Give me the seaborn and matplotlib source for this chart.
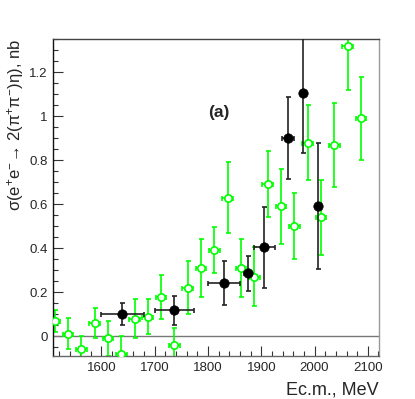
import numpy as np
import pandas as pd
import seaborn as sns
import matplotlib
matplotlib.use("Agg")
import matplotlib.pyplot as plt
from matplotlib.ticker import MultipleLocator, FuncFormatter

# --- data ---
green_x = [1512, 1537, 1562, 1587, 1612, 1637, 1662, 1687, 1712, 1737, 1762, 1787,
           1812, 1837, 1862, 1887, 1912, 1937, 1962, 1987, 2012, 2037, 2062, 2087]
green_y = [0.07, 0.012, -0.059, 0.06, -0.01, -0.08, 0.08, 0.088, 0.179, -0.041, 0.22, 0.31,
           0.39, 0.63, 0.31, 0.27, 0.69, 0.59, 0.50, 0.879, 0.54, 0.868, 1.32, 0.99]
green_yerr = [0.05, 0.07, 0.06, 0.07, 0.08, 0.08, 0.09, 0.08, 0.10, 0.08, 0.12, 0.13,
              0.105, 0.16, 0.13, 0.135, 0.15, 0.17, 0.15, 0.17, 0.17, 0.19, 0.20, 0.19]
green_xerr = [10] * len(green_x)

black_x = [1639, 1737, 1830, 1875, 1906, 1950, 1978, 2006]
black_y = [0.103, 0.118, 0.24, 0.285, 0.403, 0.90, 1.103, 0.592]
black_xerr = [40, 37, 30, 7, 19, 11, 3, 3]
black_yerr = [0.05, 0.065, 0.10, 0.08, 0.185, 0.186, 0.27, 0.287]

xticks = [1600, 1700, 1800, 1900, 2000, 2100]
yticks = [0, 0.2, 0.4, 0.6, 0.8, 1.0, 1.2]

green_df = pd.DataFrame({"E": green_x, "sigma": green_y})
black_df = pd.DataFrame({"E": black_x, "sigma": black_y})

sns.set_theme(style="white")
plt.rcParams["font.family"] = ["Liberation Sans", "DejaVu Sans"]
plt.rcParams["mathtext.fontset"] = "custom"
plt.rcParams["mathtext.rm"] = "Liberation Sans"
plt.rcParams["mathtext.it"] = "Liberation Sans:italic"

GREEN = "#00ff00"

fig = plt.figure(figsize=(4.15, 3.99), dpi=100)
ax = fig.add_axes([0.1277, 0.1078, 0.9133 - 0.1277, 0.902 - 0.1078])

ax.axhline(0, color="#777777", lw=1.0, zorder=1)

ax.errorbar(green_x, green_y, yerr=green_yerr, xerr=green_xerr, fmt="none",
            ecolor=GREEN, elinewidth=1.2, capsize=1.8, capthick=1.2, zorder=2)
sns.scatterplot(data=green_df, x="E", y="sigma", ax=ax, marker="o", s=28,
                facecolor="white", edgecolor=GREEN, linewidth=1.2, zorder=3)

ax.errorbar(black_x, black_y, yerr=black_yerr, xerr=black_xerr, fmt="none",
            ecolor="#222222", elinewidth=1.2, capsize=1.8, capthick=1.2, zorder=4)
sns.scatterplot(data=black_df, x="E", y="sigma", ax=ax, marker="o", s=46,
                color="black", edgecolor="black", linewidth=0.5, zorder=5)

ax.set_xlim(1509, 2121)
ax.set_ylim(-0.09, 1.35)
ax.set_xticks(xticks)
ax.set_yticks(yticks)
ax.xaxis.set_minor_locator(MultipleLocator(20))
ax.yaxis.set_minor_locator(MultipleLocator(0.05))
ax.yaxis.set_major_formatter(FuncFormatter(lambda v, p: "%g" % round(v, 3)))

ax.tick_params(axis="both", which="major", direction="in", length=7, width=0.8,
               labelsize=9.5, color="#333333", pad=4,
               top=False, right=False, bottom=True, left=True)
ax.tick_params(axis="both", which="minor", direction="in", length=3.6, width=0.8,
               color="#333333", top=False, right=False, bottom=True, left=True)

for side, col in [("left", "#111111"), ("top", "#444444"),
                  ("right", "#999999"), ("bottom", "#666666")]:
    ax.spines[side].set_visible(True)
    ax.spines[side].set_color(col)
    ax.spines[side].set_linewidth(1.0)

ax.set_xlabel("Ec.m., MeV", fontsize=13, loc="right", labelpad=6)
ax.set_ylabel("\u03c3(e$^{+}$e$^{-}$\u2192 2(\u03c0$^{+}$\u03c0$^{-}$)\u03b7), nb",
              fontsize=12, loc="top", labelpad=2)

ax.text(1821, 1.018, "(a)", fontsize=12.5, fontweight="bold", ha="center", va="center")

ax.grid(False)
fig.savefig("out.png", dpi=100)
